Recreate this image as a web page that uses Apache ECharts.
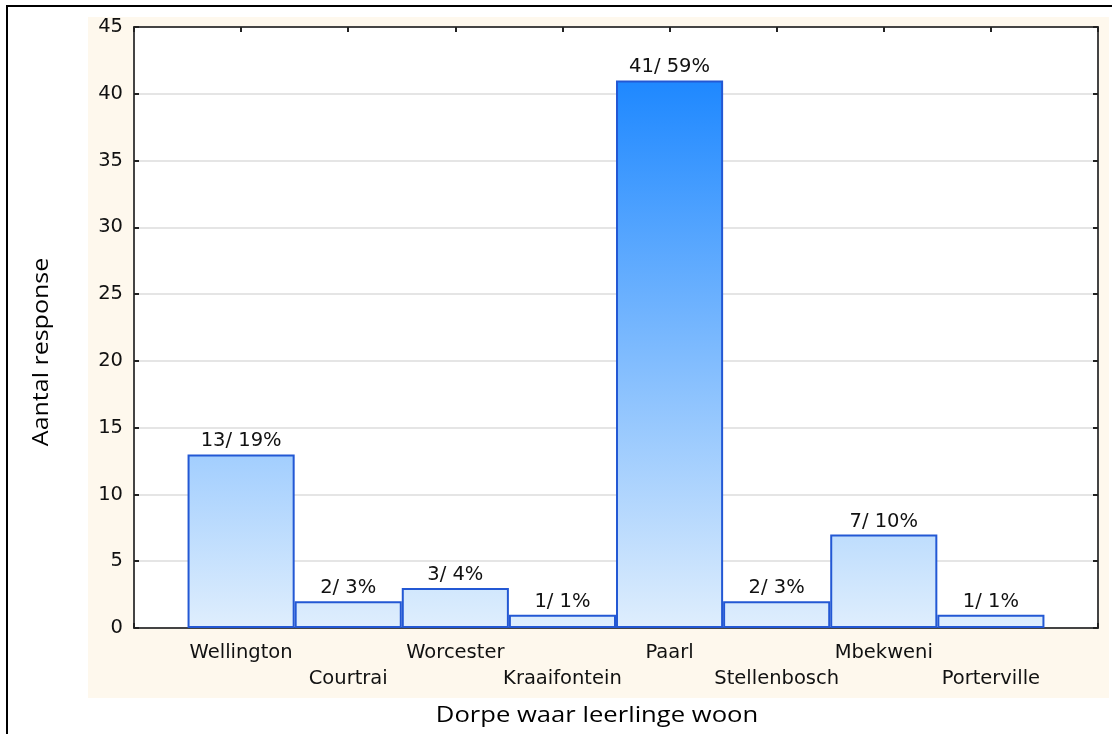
<!DOCTYPE html>
<html>
<head>
<meta charset="utf-8">
<script src="https://cdn.jsdelivr.net/npm/echarts@6/dist/echarts.min.js"></script>
<style>
html,body{margin:0;padding:0;background:#fff;}
#chart{width:1112px;height:734px;}
</style>
</head>
<body>
<div id="chart"></div>
<script>
// ---- data ----
const categories = ['Wellington','Courtrai','Worcester','Kraaifontein','Paarl','Stellenbosch','Mbekweni','Porterville'];
const counts = [13, 2, 3, 1, 41, 2, 7, 1];
const percents = [19, 3, 4, 1, 59, 3, 10, 1];
const yTicks = [0, 5, 10, 15, 20, 25, 30, 35, 40, 45];
const yTitle = 'Aantal response';
const xTitle = 'Dorpe waar leerlinge woon';

// ---- colours ----
const lightC = [223, 238, 253];
const darkC = [30, 136, 255];
const maxCount = Math.max(...counts);
function mix(t){
  const c = lightC.map((l,i)=>Math.round(l + (darkC[i]-l)*t));
  return 'rgb(' + c.join(',') + ')';
}

const chart = echarts.init(document.getElementById('chart'));
const labelFont = {fontFamily:'"DejaVu Sans", sans-serif', fontSize:19.5, color:'#111'};

const barData = counts.map((v,i)=>({
  value:[i, v],
  itemStyle:{
    color: new echarts.graphic.LinearGradient(0,0,0,1,[
      {offset:0, color:mix(v/maxCount)},
      {offset:1, color:mix(0)}
    ])
  }
}));

const axisLineStyle = {show:true, onZero:false, lineStyle:{color:'#444', width:2}};
const tickStyle = {show:true, inside:true, length:5, lineStyle:{color:'#222', width:2}};

const option = {
  backgroundColor:'#ffffff',
  animation:false,
  graphic:[
    {type:'rect', z:-10, shape:{x:88, y:17, width:1021, height:681}, style:{fill:'#fef8ed'}},
    {type:'rect', z:-9, shape:{x:7, y:6, width:1200, height:800}, style:{fill:'none', stroke:'#000', lineWidth:2}},
    {type:'text', x:597, y:716, scaleX:1.22, style:{text:xTitle, align:'center', verticalAlign:'middle', font:'21px "Open Sans", "Noto Sans", sans-serif', fill:'#000'}},
    {type:'text', x:42, y:352, rotation:Math.PI/2, scaleX:1.19, style:{text:yTitle, align:'center', verticalAlign:'middle', font:'21px "Open Sans", "Noto Sans", sans-serif', fill:'#000'}}
  ],
  grid:{left:134, right:14, top:27, bottom:106, show:true, backgroundColor:'#ffffff', borderWidth:0},
  xAxis:[
    {
      type:'value', min:-1, max:8, interval:1, position:'bottom',
      axisLine:axisLineStyle, axisTick:tickStyle,
      splitLine:{show:false},
      axisLabel:{
        ...labelFont, margin:12, lineHeight:26, verticalAlign:'top',
        formatter:function(v){
          const i = Math.round(v);
          if (i < 0 || i >= categories.length) return '';
          return (i % 2 === 1 ? '\n' : '') + categories[i];
        }
      }
    },
    {
      type:'value', min:-1, max:8, interval:1, position:'top',
      axisLine:axisLineStyle, axisTick:tickStyle,
      splitLine:{show:false}, axisLabel:{show:false}
    }
  ],
  yAxis:[
    {
      type:'value', min:yTicks[0], max:yTicks[yTicks.length-1], interval:yTicks[1]-yTicks[0], position:'left',
      axisLine:axisLineStyle, axisTick:tickStyle,
      splitLine:{show:true, lineStyle:{color:'#dcdcdc', width:1.5}},
      axisLabel:{...labelFont, margin:11}
    },
    {
      type:'value', min:yTicks[0], max:yTicks[yTicks.length-1], interval:yTicks[1]-yTicks[0], position:'right',
      axisLine:axisLineStyle, axisTick:tickStyle,
      splitLine:{show:false}, axisLabel:{show:false}
    }
  ],
  series:[{
    type:'bar',
    xAxisIndex:0, yAxisIndex:0,
    barWidth:'100%',
    data:barData,
    itemStyle:{borderColor:'#2358d4', borderWidth:2},
    label:{
      show:true, position:'top', distance:3, ...labelFont,
      formatter:function(p){ return counts[p.dataIndex] + '/ ' + percents[p.dataIndex] + '%'; }
    }
  }]
};
chart.setOption(option);
</script>
</body>
</html>
